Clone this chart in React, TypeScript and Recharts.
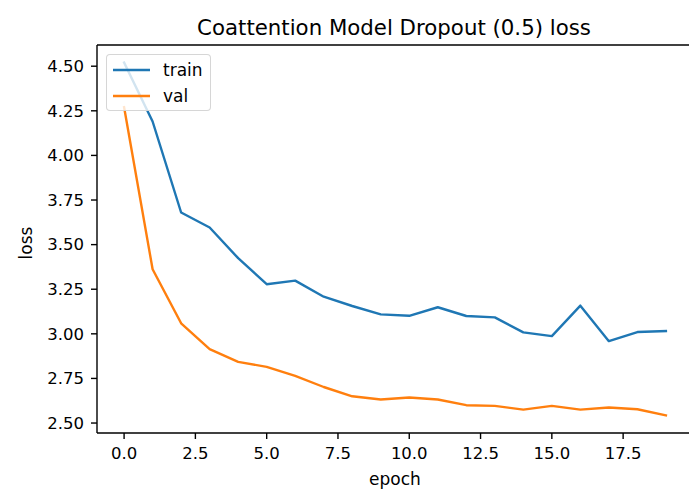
import { LineChart, Line, XAxis, YAxis, Legend, ReferenceLine } from "recharts";

const epochs = [0, 1, 2, 3, 4, 5, 6, 7, 8, 9, 10, 11, 12, 13, 14, 15, 16, 17, 18, 19];
const trainLoss = [4.52, 4.19, 3.68, 3.596, 3.424, 3.278, 3.298, 3.208, 3.156, 3.109, 3.101, 3.149, 3.1, 3.092, 3.008, 2.987, 3.158, 2.959, 3.01, 3.016];
const valLoss = [4.27, 3.362, 3.059, 2.914, 2.843, 2.815, 2.764, 2.702, 2.65, 2.632, 2.643, 2.632, 2.6, 2.596, 2.575, 2.596, 2.575, 2.587, 2.577, 2.543];
const xTicks = [0, 2.5, 5, 7.5, 10, 12.5, 15, 17.5];
const yTicks = [2.5, 2.75, 3.0, 3.25, 3.5, 3.75, 4.0, 4.25, 4.5];

const data = epochs.map((e, i) => ({ epoch: e, train: trainLoss[i], val: valLoss[i] }));

// matplotlib-style 5% margins around the data
const allY = [...trainLoss, ...valLoss];
const yMin = Math.min(...allY);
const yMax = Math.max(...allY);
const yPad = (yMax - yMin) * 0.05;
const xPad = (epochs[epochs.length - 1] - epochs[0]) * 0.05;
const xDomain = [epochs[0] - xPad, epochs[epochs.length - 1] + xPad];
const yDomain = [yMin - yPad, yMax + yPad];

const FONT = "DejaVu Sans";
const tickStyle = { fill: "#000", fontSize: 16.5, fontFamily: FONT };
const spine = { stroke: "#000", strokeWidth: 1.4 };

function LegendBox({ payload }: any) {
    return (
        <div
            style={{
                width: 105,
                height: 57,
                boxSizing: "border-box",
                background: "rgba(255,255,255,0.8)",
                border: "1px solid rgba(204,204,204,0.8)",
                borderRadius: 4,
                fontFamily: FONT,
                fontSize: 17,
                color: "#000",
                position: "relative",
            }}
        >
            {(payload || []).map((p: any, i: number) => (
                <div key={p.value} style={{ position: "absolute", left: 0, top: 3 + i * 26, height: 24, display: "flex", alignItems: "center" }}>
                    <svg width={50} height={24} style={{ display: "block" }}>
                        <line x1={6} x2={43} y1={12} y2={12} stroke={p.color} strokeWidth={2.4} />
                    </svg>
                    <span style={{ marginLeft: 6, lineHeight: "24px" }}>{p.value}</span>
                </div>
            ))}
        </div>
    );
}

export default function App() {
    return (
        <div style={{ position: "absolute", left: 0, top: 0, width: 689, height: 490, overflow: "hidden", background: "#fff" }}>
            <LineChart width={697} height={490} data={data} margin={{ top: 45, right: 4, left: 0, bottom: 0 }}>
                <XAxis
                    dataKey="epoch"
                    type="number"
                    domain={xDomain}
                    ticks={xTicks}
                    allowDataOverflow
                    tickFormatter={(v: number) => v.toFixed(1)}
                    tick={tickStyle}
                    tickSize={6}
                    tickMargin={8}
                    axisLine={spine}
                    tickLine={spine}
                    height={57}
                    label={{ value: "epoch", position: "insideBottom", offset: 5, fill: "#000", fontSize: 17, fontFamily: FONT }}
                />
                <YAxis
                    type="number"
                    domain={yDomain}
                    ticks={yTicks}
                    allowDataOverflow
                    tickFormatter={(v: number) => v.toFixed(2)}
                    tick={tickStyle}
                    tickSize={6}
                    tickMargin={7}
                    axisLine={spine}
                    tickLine={spine}
                    width={97}
                    label={{
                        content: ({ viewBox }: any) => {
                            const cy = viewBox.y + viewBox.height / 2 + 4;
                            return (
                                <text x={32} y={cy} transform={`rotate(-90, 32, ${cy})`} textAnchor="middle" fontSize={17} fontFamily={FONT} fill="#000">
                                    loss
                                </text>
                            );
                        },
                    }}
                />
                {/* top spine + title */}
                <ReferenceLine
                    y={yDomain[1]}
                    stroke="#000"
                    strokeWidth={1.4}
                    ifOverflow="visible"
                    label={{
                        content: ({ viewBox }: any) => (
                            <text x={viewBox.x + viewBox.width / 2 - 1} y={viewBox.y - 10} textAnchor="middle" fontSize={21.3} fontFamily={FONT} fill="#000">
                                Coattention Model Dropout (0.5) loss
                            </text>
                        ),
                    }}
                />
                <Line dataKey="train" name="train" stroke="#1f77b4" strokeWidth={2.4} strokeLinecap="square" strokeLinejoin="round" dot={false} isAnimationActive={false} />
                <Line dataKey="val" name="val" stroke="#ff7f0e" strokeWidth={2.4} strokeLinecap="square" strokeLinejoin="round" dot={false} isAnimationActive={false} />
                <Legend
                    layout="vertical"
                    align="center"
                    verticalAlign="middle"
                    content={<LegendBox />}
                    wrapperStyle={{ left: 106, top: 54, width: 105, height: 57 }}
                />
            </LineChart>
        </div>
    );
}
